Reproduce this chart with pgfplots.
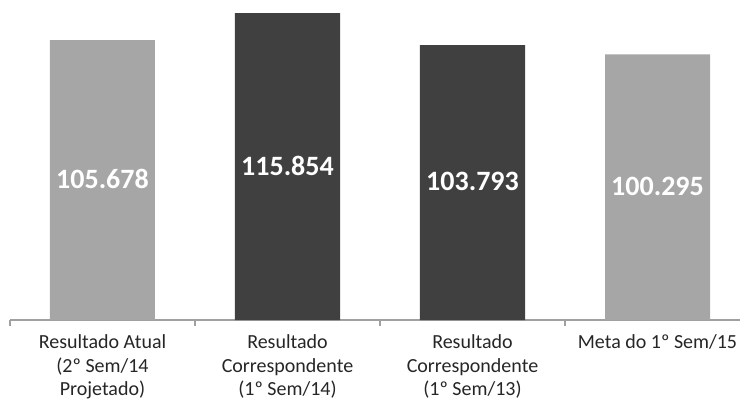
\documentclass[border=0pt]{standalone}
\usepackage{pgfplots}
\pgfplotsset{compat=1.18}
\usepackage{fontspec}
\setmainfont{Carlito}
\definecolor{barlight}{HTML}{A6A6A6}
\definecolor{bardark}{HTML}{404040}
\definecolor{axisgray}{HTML}{A0A0A0}
\definecolor{labeltext}{HTML}{262626}
\begin{document}
\begin{tikzpicture}
\begin{axis}[
  scale only axis,
  width=740pt, height=320pt,
  xmin=-0.5, xmax=3.5,
  ymin=0, ymax=120800,
  axis x line*=bottom,
  hide y axis,
  scaled y ticks=false,
  axis line style={axisgray, line width=1.3pt},
  x axis line style={-},
  xtick={0,1,2,3},
  xticklabels={
    {Resultado Atual\\(2º Sem/14\\Projetado)},
    {Resultado\\Correspondente\\(1º Sem/14)},
    {Resultado\\Correspondente\\(1º Sem/13)},
    {Meta do 1º Sem/15}},
  major tick length=0pt,
  minor xtick={-0.5,0.5,1.5,2.5,3.5},
  minor tick length=6pt,
  tick pos=lower,
  tick align=outside,
  minor tick style={axisgray, line width=1.3pt},
  xticklabel style={align=center, font=\fontsize{20}{23.5}\selectfont,
    text=labeltext, anchor=north, yshift=-11.5pt},
  ybar, bar width=105pt,
  every axis plot/.append style={bar shift=0pt, draw=none},
  visualization depends on={y/2 \as \halfy},
  nodes near coords={\pgfmathprintnumber[fixed, precision=0, 1000 sep={.}, assume math mode=true]{\pgfplotspointmeta}},
  every node near coord/.append style={anchor=center, text=white,
    font=\fontsize{28}{30}\selectfont\bfseries,
    shift={(axis direction cs:0,-\halfy)}, yshift=1pt},
  clip=false,
]
% light bars: current result and target
\addplot[fill=barlight] coordinates {(0,105678) (3,100295)};
% dark bars: corresponding results of previous semesters
\addplot[fill=bardark] coordinates {(1,115854) (2,103793)};
\end{axis}
\pgfresetboundingbox
\useasboundingbox (-10pt,-82pt) rectangle (730pt,320pt);
\end{tikzpicture}
\end{document}
